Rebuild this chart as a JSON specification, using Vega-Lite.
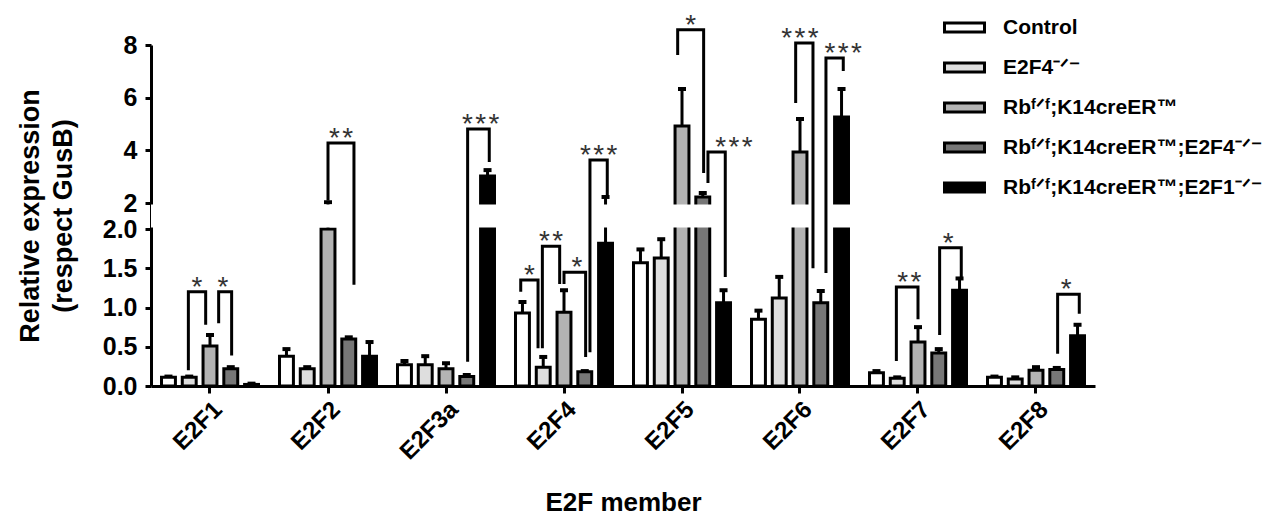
{
  "$schema": "https://vega.github.io/schema/vega-lite/v6.json",
  "autosize": {"type": "none"},
  "padding": {"left": 151, "top": 45, "right": 184, "bottom": 133},
  "width": 944,
  "height": 341,
  "config": {
    "font": "Liberation Sans",
    "view": {"stroke": null},
    "axis": {"grid": false, "domainColor": "black", "tickColor": "black", "labelColor": "black", "titleColor": "black", "domainWidth": 3, "tickWidth": 3, "labelFont": "Liberation Sans", "titleFont": "Liberation Sans", "labelFontWeight": "bold", "titleFontWeight": "bold"}
  },
  "datasets": {
    "bars": [
      {"gene": "E2F1", "group": "Control", "value": 0.11, "hi": 0.12},
      {"gene": "E2F1", "group": "E2F4⁻ᐟ⁻", "value": 0.11, "hi": 0.12},
      {"gene": "E2F1", "group": "Rbᶠᐟᶠ;K14creER™", "value": 0.51, "hi": 0.65},
      {"gene": "E2F1", "group": "Rbᶠᐟᶠ;K14creER™;E2F4⁻ᐟ⁻", "value": 0.22, "hi": 0.24},
      {"gene": "E2F1", "group": "Rbᶠᐟᶠ;K14creER™;E2F1⁻ᐟ⁻", "value": 0.02, "hi": 0.03},
      {"gene": "E2F2", "group": "Control", "value": 0.38, "hi": 0.47},
      {"gene": "E2F2", "group": "E2F4⁻ᐟ⁻", "value": 0.22, "hi": 0.24},
      {"gene": "E2F2", "group": "Rbᶠᐟᶠ;K14creER™", "value": 2.0, "hi": 2.03},
      {"gene": "E2F2", "group": "Rbᶠᐟᶠ;K14creER™;E2F4⁻ᐟ⁻", "value": 0.6, "hi": 0.62},
      {"gene": "E2F2", "group": "Rbᶠᐟᶠ;K14creER™;E2F1⁻ᐟ⁻", "value": 0.38, "hi": 0.56},
      {"gene": "E2F3a", "group": "Control", "value": 0.27, "hi": 0.32},
      {"gene": "E2F3a", "group": "E2F4⁻ᐟ⁻", "value": 0.27, "hi": 0.38},
      {"gene": "E2F3a", "group": "Rbᶠᐟᶠ;K14creER™", "value": 0.22, "hi": 0.29},
      {"gene": "E2F3a", "group": "Rbᶠᐟᶠ;K14creER™;E2F4⁻ᐟ⁻", "value": 0.12, "hi": 0.14},
      {"gene": "E2F3a", "group": "Rbᶠᐟᶠ;K14creER™;E2F1⁻ᐟ⁻", "value": 3.03, "hi": 3.25},
      {"gene": "E2F4", "group": "Control", "value": 0.93, "hi": 1.07},
      {"gene": "E2F4", "group": "E2F4⁻ᐟ⁻", "value": 0.24, "hi": 0.37},
      {"gene": "E2F4", "group": "Rbᶠᐟᶠ;K14creER™", "value": 0.94, "hi": 1.22},
      {"gene": "E2F4", "group": "Rbᶠᐟᶠ;K14creER™;E2F4⁻ᐟ⁻", "value": 0.18, "hi": 0.19},
      {"gene": "E2F4", "group": "Rbᶠᐟᶠ;K14creER™;E2F1⁻ᐟ⁻", "value": 1.82, "hi": 2.23},
      {"gene": "E2F5", "group": "Control", "value": 1.57, "hi": 1.74},
      {"gene": "E2F5", "group": "E2F4⁻ᐟ⁻", "value": 1.63, "hi": 1.87},
      {"gene": "E2F5", "group": "Rbᶠᐟᶠ;K14creER™", "value": 4.92, "hi": 6.33},
      {"gene": "E2F5", "group": "Rbᶠᐟᶠ;K14creER™;E2F4⁻ᐟ⁻", "value": 2.23, "hi": 2.38},
      {"gene": "E2F5", "group": "Rbᶠᐟᶠ;K14creER™;E2F1⁻ᐟ⁻", "value": 1.06, "hi": 1.22},
      {"gene": "E2F6", "group": "Control", "value": 0.85, "hi": 0.96},
      {"gene": "E2F6", "group": "E2F4⁻ᐟ⁻", "value": 1.12, "hi": 1.39},
      {"gene": "E2F6", "group": "Rbᶠᐟᶠ;K14creER™", "value": 3.94, "hi": 5.19},
      {"gene": "E2F6", "group": "Rbᶠᐟᶠ;K14creER™;E2F4⁻ᐟ⁻", "value": 1.06, "hi": 1.21},
      {"gene": "E2F6", "group": "Rbᶠᐟᶠ;K14creER™;E2F1⁻ᐟ⁻", "value": 5.27, "hi": 6.33},
      {"gene": "E2F7", "group": "Control", "value": 0.17, "hi": 0.19},
      {"gene": "E2F7", "group": "E2F4⁻ᐟ⁻", "value": 0.1, "hi": 0.11},
      {"gene": "E2F7", "group": "Rbᶠᐟᶠ;K14creER™", "value": 0.56, "hi": 0.75},
      {"gene": "E2F7", "group": "Rbᶠᐟᶠ;K14creER™;E2F4⁻ᐟ⁻", "value": 0.42, "hi": 0.47},
      {"gene": "E2F7", "group": "Rbᶠᐟᶠ;K14creER™;E2F1⁻ᐟ⁻", "value": 1.22, "hi": 1.37},
      {"gene": "E2F8", "group": "Control", "value": 0.11, "hi": 0.12},
      {"gene": "E2F8", "group": "E2F4⁻ᐟ⁻", "value": 0.09, "hi": 0.11},
      {"gene": "E2F8", "group": "Rbᶠᐟᶠ;K14creER™", "value": 0.2, "hi": 0.24},
      {"gene": "E2F8", "group": "Rbᶠᐟᶠ;K14creER™;E2F4⁻ᐟ⁻", "value": 0.21, "hi": 0.23},
      {"gene": "E2F8", "group": "Rbᶠᐟᶠ;K14creER™;E2F1⁻ᐟ⁻", "value": 0.64, "hi": 0.78}
    ],
    "brackets": [
      {"id": "E2F1a", "gene": "E2F1", "slot": "E4.c", "y": 0.2, "pt": 1},
      {"id": "E2F1a", "gene": "E2F1", "slot": "E4.c", "y": 1.2, "pt": 2},
      {"id": "E2F1a", "gene": "E2F1", "slot": "Rb.b", "y": 1.2, "pt": 3},
      {"id": "E2F1a", "gene": "E2F1", "slot": "Rb.b", "y": 0.78, "pt": 4},
      {"id": "E2F1b", "gene": "E2F1", "slot": "Rb.e", "y": 0.8, "pt": 1},
      {"id": "E2F1b", "gene": "E2F1", "slot": "Rb.e", "y": 1.2, "pt": 2},
      {"id": "E2F1b", "gene": "E2F1", "slot": "RbE4.c", "y": 1.2, "pt": 3},
      {"id": "E2F1b", "gene": "E2F1", "slot": "RbE4.c", "y": 0.39, "pt": 4},
      {"id": "E2F2a", "gene": "E2F2", "slot": "Rb.c", "y": 2.1, "pt": 1},
      {"id": "E2F2a", "gene": "E2F2", "slot": "Rb.c", "y": 4.28, "pt": 2},
      {"id": "E2F2a", "gene": "E2F2", "slot": "RbE4.d", "y": 4.28, "pt": 3},
      {"id": "E2F2a", "gene": "E2F2", "slot": "RbE4.d", "y": 1.29, "pt": 4},
      {"id": "E2F3a", "gene": "E2F3a", "slot": "RbE4.c", "y": 0.31, "pt": 1},
      {"id": "E2F3a", "gene": "E2F3a", "slot": "RbE4.c", "y": 4.81, "pt": 2},
      {"id": "E2F3a", "gene": "E2F3a", "slot": "RbE1.c", "y": 4.81, "pt": 3},
      {"id": "E2F3a", "gene": "E2F3a", "slot": "RbE1.c", "y": 3.56, "pt": 4},
      {"id": "E2F4a", "gene": "E2F4", "slot": "C.c", "y": 1.2, "pt": 1},
      {"id": "E2F4a", "gene": "E2F4", "slot": "C.c", "y": 1.35, "pt": 2},
      {"id": "E2F4a", "gene": "E2F4", "slot": "E4.b", "y": 1.35, "pt": 3},
      {"id": "E2F4a", "gene": "E2F4", "slot": "E4.b", "y": 0.48, "pt": 4},
      {"id": "E2F4b", "gene": "E2F4", "slot": "E4.c", "y": 0.48, "pt": 1},
      {"id": "E2F4b", "gene": "E2F4", "slot": "E4.c", "y": 1.78, "pt": 2},
      {"id": "E2F4b", "gene": "E2F4", "slot": "Rb.b", "y": 1.78, "pt": 3},
      {"id": "E2F4b", "gene": "E2F4", "slot": "Rb.b", "y": 1.3, "pt": 4},
      {"id": "E2F4c", "gene": "E2F4", "slot": "Rb.c", "y": 1.3, "pt": 1},
      {"id": "E2F4c", "gene": "E2F4", "slot": "Rb.c", "y": 1.45, "pt": 2},
      {"id": "E2F4c", "gene": "E2F4", "slot": "RbE4.c", "y": 1.45, "pt": 3},
      {"id": "E2F4c", "gene": "E2F4", "slot": "RbE4.c", "y": 0.37, "pt": 4},
      {"id": "E2F4d", "gene": "E2F4", "slot": "RbE4.d", "y": 0.43, "pt": 1},
      {"id": "E2F4d", "gene": "E2F4", "slot": "RbE4.d", "y": 3.63, "pt": 2},
      {"id": "E2F4d", "gene": "E2F4", "slot": "RbE1.c", "y": 3.63, "pt": 3},
      {"id": "E2F4d", "gene": "E2F4", "slot": "RbE1.c", "y": 2.23, "pt": 4},
      {"id": "E2F5a", "gene": "E2F5", "slot": "Rb.b", "y": 7.62, "pt": 1},
      {"id": "E2F5a", "gene": "E2F5", "slot": "Rb.b", "y": 8.58, "pt": 2},
      {"id": "E2F5a", "gene": "E2F5", "slot": "RbE4.c", "y": 8.58, "pt": 3},
      {"id": "E2F5a", "gene": "E2F5", "slot": "RbE4.c", "y": 3.14, "pt": 4},
      {"id": "E2F5b", "gene": "E2F5", "slot": "RbE4.d", "y": 2.76, "pt": 1},
      {"id": "E2F5b", "gene": "E2F5", "slot": "RbE4.d", "y": 3.94, "pt": 2},
      {"id": "E2F5b", "gene": "E2F5", "slot": "RbE1.c", "y": 3.94, "pt": 3},
      {"id": "E2F5b", "gene": "E2F5", "slot": "RbE1.c", "y": 1.39, "pt": 4},
      {"id": "E2F6a", "gene": "E2F6", "slot": "Rb.b", "y": 5.8, "pt": 1},
      {"id": "E2F6a", "gene": "E2F6", "slot": "Rb.b", "y": 8.08, "pt": 2},
      {"id": "E2F6a", "gene": "E2F6", "slot": "RbE4.a", "y": 8.08, "pt": 3},
      {"id": "E2F6a", "gene": "E2F6", "slot": "RbE4.a", "y": 1.5, "pt": 4},
      {"id": "E2F6b", "gene": "E2F6", "slot": "RbE4.d", "y": 1.44, "pt": 1},
      {"id": "E2F6b", "gene": "E2F6", "slot": "RbE4.d", "y": 7.51, "pt": 2},
      {"id": "E2F6b", "gene": "E2F6", "slot": "RbE1.c", "y": 7.51, "pt": 3},
      {"id": "E2F6b", "gene": "E2F6", "slot": "RbE1.c", "y": 7.01, "pt": 4},
      {"id": "E2F7a", "gene": "E2F7", "slot": "E4.c", "y": 0.32, "pt": 1},
      {"id": "E2F7a", "gene": "E2F7", "slot": "E4.c", "y": 1.26, "pt": 2},
      {"id": "E2F7a", "gene": "E2F7", "slot": "Rb.c", "y": 1.26, "pt": 3},
      {"id": "E2F7a", "gene": "E2F7", "slot": "Rb.c", "y": 0.85, "pt": 4},
      {"id": "E2F7b", "gene": "E2F7", "slot": "RbE4.c", "y": 0.65, "pt": 1},
      {"id": "E2F7b", "gene": "E2F7", "slot": "RbE4.c", "y": 1.76, "pt": 2},
      {"id": "E2F7b", "gene": "E2F7", "slot": "RbE1.c", "y": 1.76, "pt": 3},
      {"id": "E2F7b", "gene": "E2F7", "slot": "RbE1.c", "y": 1.36, "pt": 4},
      {"id": "E2F8a", "gene": "E2F8", "slot": "RbE4.c", "y": 0.41, "pt": 1},
      {"id": "E2F8a", "gene": "E2F8", "slot": "RbE4.c", "y": 1.17, "pt": 2},
      {"id": "E2F8a", "gene": "E2F8", "slot": "RbE1.c", "y": 1.17, "pt": 3},
      {"id": "E2F8a", "gene": "E2F8", "slot": "RbE1.c", "y": 0.92, "pt": 4}
    ],
    "stars": [
      {"gene": "E2F1", "slot": "E4.e", "y": 1.2, "label": "*"},
      {"gene": "E2F1", "slot": "RbE4.a", "y": 1.2, "label": "*"},
      {"gene": "E2F2", "slot": "RbE4.a", "y": 4.28, "label": "*\u200a*"},
      {"gene": "E2F3a", "slot": "RbE1.a", "y": 4.81, "label": "*\u200a*\u200a*"},
      {"gene": "E2F4", "slot": "C.e", "y": 1.35, "label": "*"},
      {"gene": "E2F4", "slot": "E4.e", "y": 1.78, "label": "*\u200a*"},
      {"gene": "E2F4", "slot": "RbE4.a", "y": 1.45, "label": "*"},
      {"gene": "E2F4", "slot": "RbE1.a", "y": 3.63, "label": "*\u200a*\u200a*"},
      {"gene": "E2F5", "slot": "Rb.e", "y": 8.58, "label": "*"},
      {"gene": "E2F5", "slot": "RbE1.e", "y": 3.94, "label": "*\u200a*\u200a*"},
      {"gene": "E2F6", "slot": "Rb.c", "y": 8.08, "label": "*\u200a*\u200a*"},
      {"gene": "E2F6", "slot": "RbE1.c", "y": 7.51, "label": "*\u200a*\u200a*"},
      {"gene": "E2F7", "slot": "Rb.a", "y": 1.26, "label": "*\u200a*"},
      {"gene": "E2F7", "slot": "RbE4.e", "y": 1.76, "label": "*"},
      {"gene": "E2F8", "slot": "RbE4.e", "y": 1.17, "label": "*"}
    ]
  },
  "resolve": {"scale": {"xOffset": "independent"}},
  "layer": [
    {
      "data": {"name": "bars"},
      "mark": {"type": "rule", "strokeWidth": 3, "color": "black"},
      "encoding": {
        "x": {"field": "gene", "type": "nominal", "sort": ["E2F1", "E2F2", "E2F3a", "E2F4", "E2F5", "E2F6", "E2F7", "E2F8"], "scale": {"paddingInner": 0.12, "paddingOuter": 0.06},
          "axis": {"title": "E2F member", "titleFontSize": 26, "titlePadding": 26, "labelAngle": -45, "labelFontSize": 24, "labelPadding": 4, "tickSize": 7}},
        "xOffset": {"field": "group", "type": "nominal", "scale": {"domain": ["Control", "E2F4⁻ᐟ⁻", "Rbᶠᐟᶠ;K14creER™", "Rbᶠᐟᶠ;K14creER™;E2F4⁻ᐟ⁻", "Rbᶠᐟᶠ;K14creER™;E2F1⁻ᐟ⁻"], "paddingInner": 0.33, "paddingOuter": 0.165}},
        "y": {"field": "value", "type": "quantitative", "stack": null, "scale": {"domain": [0, 2, 2.001, 8], "range": [341, 184, 158, 0], "nice": false, "zero": false},
          "axis": {"values": [0, 0.5, 1, 1.5, 2, 2.001, 4, 6, 8], "labelExpr": "datum.value <= 2 ? format(datum.value, '.1f') : format(datum.value, '.0f')", "labelOverlap": false, "labelFontSize": 25, "labelPadding": 8, "tickSize": 6,
            "title": ["Relative expression", "(respect GusB)"], "titleFontSize": 27, "titleLineHeight": 33, "titlePadding": 25}},
        "y2": {"field": "hi"}
      }
    },
    {
      "data": {"name": "bars"},
      "mark": {"type": "tick", "thickness": 4, "size": 8, "color": "black", "opacity": 1},
      "encoding": {
        "x": {"field": "gene", "type": "nominal", "sort": ["E2F1", "E2F2", "E2F3a", "E2F4", "E2F5", "E2F6", "E2F7", "E2F8"], "scale": {"paddingInner": 0.12, "paddingOuter": 0.06}},
        "xOffset": {"field": "group", "type": "nominal", "scale": {"domain": ["Control", "E2F4⁻ᐟ⁻", "Rbᶠᐟᶠ;K14creER™", "Rbᶠᐟᶠ;K14creER™;E2F4⁻ᐟ⁻", "Rbᶠᐟᶠ;K14creER™;E2F1⁻ᐟ⁻"], "paddingInner": 0.33, "paddingOuter": 0.165}},
        "y": {"field": "hi", "type": "quantitative", "stack": null, "scale": {"domain": [0, 2, 2.001, 8], "range": [341, 184, 158, 0], "nice": false, "zero": false}}
      }
    },
    {
      "data": {"name": "bars"},
      "mark": {"type": "bar", "stroke": "black", "strokeWidth": 3, "opacity": 1},
      "encoding": {
        "x": {"field": "gene", "type": "nominal", "sort": ["E2F1", "E2F2", "E2F3a", "E2F4", "E2F5", "E2F6", "E2F7", "E2F8"], "scale": {"paddingInner": 0.12, "paddingOuter": 0.06}},
        "xOffset": {"field": "group", "type": "nominal", "scale": {"domain": ["Control", "E2F4⁻ᐟ⁻", "Rbᶠᐟᶠ;K14creER™", "Rbᶠᐟᶠ;K14creER™;E2F4⁻ᐟ⁻", "Rbᶠᐟᶠ;K14creER™;E2F1⁻ᐟ⁻"], "paddingInner": 0.33, "paddingOuter": 0.165}},
        "y": {"field": "value", "type": "quantitative", "stack": null, "scale": {"domain": [0, 2, 2.001, 8], "range": [341, 184, 158, 0], "nice": false, "zero": false}},
        "fill": {"field": "group", "type": "nominal",
          "scale": {"domain": ["Control", "E2F4⁻ᐟ⁻", "Rbᶠᐟᶠ;K14creER™", "Rbᶠᐟᶠ;K14creER™;E2F4⁻ᐟ⁻", "Rbᶠᐟᶠ;K14creER™;E2F1⁻ᐟ⁻"], "range": ["#ffffff", "#dedede", "#b3b3b3", "#777777", "#000000"]},
          "legend": {"title": null, "orient": "none", "legendX": 802, "legendY": -29, "padding": 0, "symbolType": "M-2,-0.44H2V0.44H-2Z", "symbolSize": 400, "symbolStrokeWidth": 3, "symbolStrokeColor": "black", "symbolOpacity": 1, "labelFont": "Liberation Sans", "labelFontSize": 21, "labelFontWeight": "bold", "labelColor": "black", "labelOffset": 27, "rowPadding": 18, "labelLimit": 400}}
      }
    },
    {
      "data": {"values": [{"lo": 2.00006, "hi": 2.00094}]},
      "mark": {"type": "rect", "color": "white", "xOffset": -12},
      "encoding": {
        "y": {"field": "lo", "type": "quantitative", "scale": {"domain": [0, 2, 2.001, 8], "range": [341, 184, 158, 0], "nice": false, "zero": false}},
        "y2": {"field": "hi"}
      }
    },
    {
      "data": {"name": "brackets"},
      "mark": {"type": "line", "strokeWidth": 3, "color": "black", "strokeJoin": "miter", "strokeCap": "butt"},
      "encoding": {
        "x": {"field": "gene", "type": "nominal", "sort": ["E2F1", "E2F2", "E2F3a", "E2F4", "E2F5", "E2F6", "E2F7", "E2F8"], "scale": {"paddingInner": 0.12, "paddingOuter": 0.06}},
        "xOffset": {"field": "slot", "type": "nominal", "scale": {"domain": ["C.a", "C.b", "C.c", "C.d", "C.e", "E4.a", "E4.b", "E4.c", "E4.d", "E4.e", "Rb.a", "Rb.b", "Rb.c", "Rb.d", "Rb.e", "RbE4.a", "RbE4.b", "RbE4.c", "RbE4.d", "RbE4.e", "RbE1.a", "RbE1.b", "RbE1.c", "RbE1.d", "RbE1.e"], "paddingInner": 0, "paddingOuter": 0}},
        "y": {"field": "y", "type": "quantitative", "scale": {"domain": [0, 2, 2.001, 8], "range": [341, 184, 158, 0], "nice": false, "zero": false}},
        "detail": {"field": "id"},
        "order": {"field": "pt", "type": "quantitative"}
      }
    },
    {
      "data": {"name": "stars"},
      "mark": {"type": "text", "fontSize": 28, "color": "#333333", "baseline": "alphabetic", "align": "center", "dy": 4, "font": "Liberation Sans"},
      "encoding": {
        "x": {"field": "gene", "type": "nominal", "sort": ["E2F1", "E2F2", "E2F3a", "E2F4", "E2F5", "E2F6", "E2F7", "E2F8"], "scale": {"paddingInner": 0.12, "paddingOuter": 0.06}},
        "xOffset": {"field": "slot", "type": "nominal", "scale": {"domain": ["C.a", "C.b", "C.c", "C.d", "C.e", "E4.a", "E4.b", "E4.c", "E4.d", "E4.e", "Rb.a", "Rb.b", "Rb.c", "Rb.d", "Rb.e", "RbE4.a", "RbE4.b", "RbE4.c", "RbE4.d", "RbE4.e", "RbE1.a", "RbE1.b", "RbE1.c", "RbE1.d", "RbE1.e"], "paddingInner": 0, "paddingOuter": 0}},
        "y": {"field": "y", "type": "quantitative", "scale": {"domain": [0, 2, 2.001, 8], "range": [341, 184, 158, 0], "nice": false, "zero": false}},
        "text": {"field": "label"}
      }
    }
  ]
}
